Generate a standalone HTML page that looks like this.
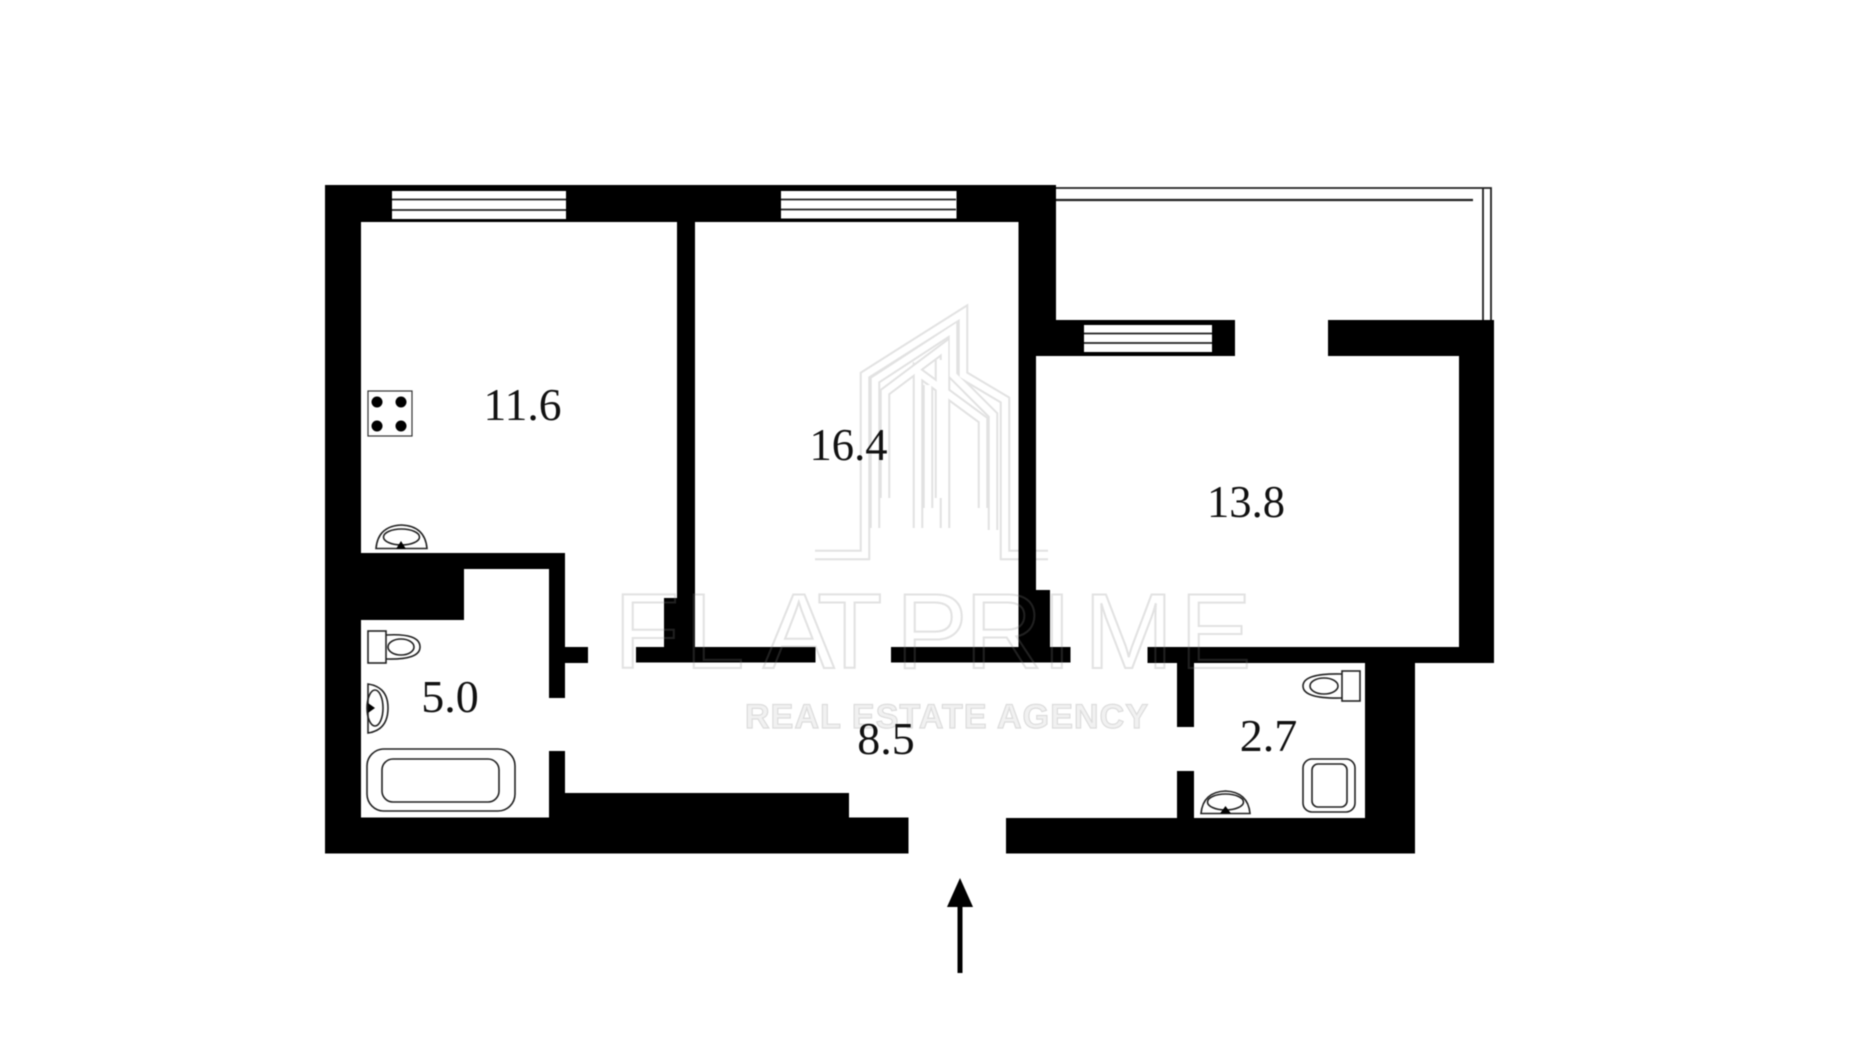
<!DOCTYPE html>
<html><head><meta charset="utf-8"><style>
html,body{margin:0;padding:0;background:#fff;width:1850px;height:1040px;overflow:hidden}
svg{display:block;filter:blur(.5px)}
.n{font-family:"Liberation Serif",serif;font-size:46px;fill:#111;text-anchor:middle}
.fx{fill:none;stroke:#222;stroke-width:1.6}
.b{fill:none;stroke:#e2e2e2;stroke-width:10.500;stroke-linejoin:miter}
.bi{fill:none;stroke:#fff;stroke-width:6.500;stroke-linejoin:miter}
.wm{font-family:"Liberation Sans",sans-serif;font-size:107px}
</style></head><body>
<svg width="1850" height="1040" viewBox="0 0 1850 1040" xmlns="http://www.w3.org/2000/svg">
<rect width="1850" height="1040" fill="#fff"/>
<!-- building watermark -->
<g>
<g class="b">
<path d="M815 555H865V375L963 313V375L1005 400V555H1048"/>
<path d="M875 528V380L953 329V375L993 415V530"/>
<path d="M885 498V392L945 347V528"/>
<path d="M918 528V372L983 420V508"/>
<path d="M928 508V385M940 498V360"/>
</g>
<g class="bi">
<path d="M815 555H865V375L963 313V375L1005 400V555H1048"/>
<path d="M875 528V380L953 329V375L993 415V530"/>
<path d="M885 498V392L945 347V528"/>
<path d="M918 528V372L983 420V508"/>
<path d="M928 508V385M940 498V360"/>
</g>
</g>
<!-- watermark text under walls -->
<text class="wm" y="668" x="614 685 763 817 896 965 1042 1084 1180" fill="none" stroke="#dedede" stroke-width="2">FLATPRIME</text>
<text x="745" y="728" font-family="Liberation Sans,sans-serif" font-weight="bold" font-size="34" textLength="403" lengthAdjust="spacing" fill="#f1f1f1" stroke="#dcdcdc" stroke-width="1.200">REAL ESTATE AGENCY</text>
<!-- balcony -->
<path d="M1056 188H1491V320M1483 188V320" fill="none" stroke="#222" stroke-width="1.800"/>
<path d="M1056 200H1473" fill="none" stroke="#222" stroke-width="2.200"/>
<!-- walls -->
<g fill="#000">
<rect x="325" y="185" width="731" height="37"/>
<rect x="325" y="185" width="36" height="668"/>
<rect x="677" y="222" width="18" height="440"/>
<rect x="664" y="598" width="31" height="64"/>
<rect x="636" y="647" width="179.500" height="15.500"/>
<rect x="1018.500" y="185" width="37.500" height="171"/>
<rect x="1018.500" y="356" width="17.500" height="306"/>
<rect x="1019" y="590" width="31" height="72"/>
<rect x="891" y="647" width="179.500" height="15.500"/>
<rect x="1018.500" y="320" width="216.500" height="36"/>
<rect x="1328" y="320" width="166" height="36"/>
<rect x="1459" y="320" width="35" height="343"/>
<rect x="1147.500" y="647" width="346.500" height="16"/>
<rect x="1177" y="663" width="17" height="64"/>
<rect x="1177" y="771" width="17" height="47"/>
<rect x="1365" y="663" width="50" height="190"/>
<rect x="1006" y="818" width="409" height="35.500"/>
<rect x="325" y="817.500" width="583.500" height="36"/>
<rect x="549" y="793" width="300" height="60"/>
<rect x="549" y="751" width="16" height="70"/>
<rect x="361" y="553" width="204" height="16"/>
<rect x="361" y="553" width="103" height="67"/>
<rect x="549" y="553" width="16" height="145"/>
<rect x="565" y="647" width="23" height="16"/>
</g>
<!-- faint watermark over walls -->
<text class="wm" y="668" x="614 685 763 817 896 965 1042 1084 1180" fill="none" stroke="#fff" stroke-opacity=".13" stroke-width="2">FLATPRIME</text>
<!-- windows -->
<g fill="#fff">
<rect x="392" y="191" width="174" height="28"/>
<rect x="781" y="191" width="175.500" height="27.500"/>
<rect x="1084" y="325" width="128" height="27"/>
</g>
<g stroke="#222" stroke-width="1.800">
<path d="M392 199.500H566M392 210H566M781 199.500H956M781 209.500H956M1084 333.500H1212M1084 343H1212"/>
</g>
<!-- stove -->
<rect x="368" y="391" width="44" height="45" fill="#fff" stroke="#333" stroke-width="1.200"/>
<g fill="#000"><circle cx="377" cy="402" r="5.500"/><circle cx="401" cy="402" r="5.500"/><circle cx="377" cy="426" r="5.500"/><circle cx="401" cy="426" r="5.500"/></g>
<!-- kitchen sink -->
<g class="fx">
<path d="M376 548.500Q378 526 401.500 525Q425 526 427 548.500Z"/>
<ellipse cx="401.500" cy="537" rx="18" ry="8"/>
</g>
<path d="M396 549L401 541L406 549Z" fill="#000"/>
<!-- bathroom toilet -->
<g class="fx">
<rect x="368" y="631" width="18" height="32"/>
<path d="M386 635Q420 633 420 647Q420 660 386 659"/>
<ellipse cx="401" cy="647" rx="13" ry="8"/>
</g>
<!-- bathroom sink -->
<g class="fx">
<path d="M368 684V733Q388 730 388 708Q388 687 368 684Z"/>
<ellipse cx="375" cy="708" rx="8" ry="18"/>
</g>
<path d="M368 703L375 708L368 713Z" fill="#000"/>
<!-- bath -->
<g class="fx" stroke-width="1.800">
<rect x="367" y="749" width="148" height="62" rx="17"/>
<rect x="382" y="759" width="117" height="43" rx="11"/>
</g>
<!-- wc right -->
<g class="fx">
<rect x="1342" y="671" width="18" height="30"/>
<path d="M1342 674Q1303 673 1303 686Q1303 699 1342 698"/>
<ellipse cx="1324" cy="686" rx="14" ry="8"/>
</g>
<!-- sink right -->
<g class="fx">
<path d="M1201 813.500Q1203 792 1225.500 791Q1248 792 1250 813.500Z"/>
<ellipse cx="1225.500" cy="802" rx="18" ry="8"/>
</g>
<path d="M1220 813.500L1225.500 806L1231 813.500Z" fill="#000"/>
<!-- tray -->
<g class="fx">
<rect x="1303" y="759" width="52" height="53" rx="9"/>
<rect x="1312" y="764" width="35" height="43" rx="6"/>
</g>
<!-- labels -->
<text class="n" x="522.500" y="420" textLength="78" lengthAdjust="spacingAndGlyphs">11.6</text>
<text class="n" x="848.500" y="460" textLength="78" lengthAdjust="spacingAndGlyphs">16.4</text>
<text class="n" x="1246" y="517" textLength="78" lengthAdjust="spacingAndGlyphs">13.8</text>
<text class="n" x="886" y="754">8.5</text>
<text class="n" x="450" y="712">5.0</text>
<text class="n" x="1268.500" y="751">2.7</text>
<!-- arrow -->
<path d="M960 878L973 907H947Z" fill="#000"/>
<rect x="957.500" y="905" width="5" height="68" fill="#000"/>
</svg>
</body></html>
